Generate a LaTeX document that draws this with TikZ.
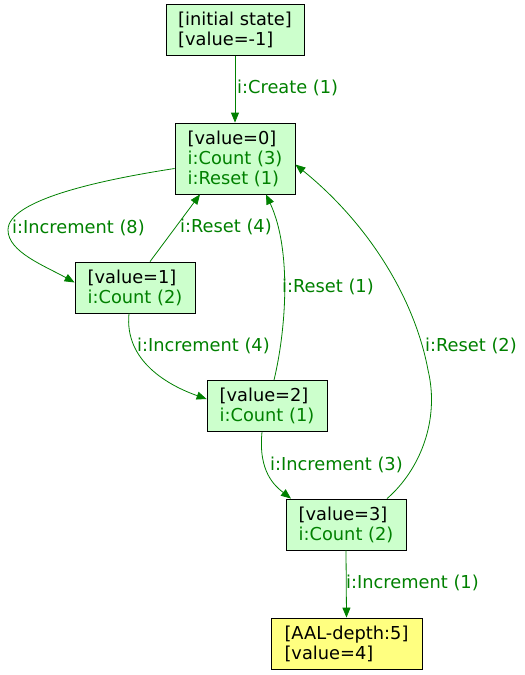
\documentclass[tikz,border=0pt]{standalone}
\usepackage{fontspec}
\setmainfont{DejaVu Sans}
\usetikzlibrary{arrows.meta,positioning}
\definecolor{stfill}{HTML}{CCFFCC}
\definecolor{endfill}{HTML}{FFFF80}
\definecolor{edgegreen}{HTML}{008000}
\begin{document}
\begin{tikzpicture}[x=1pt,y=-1pt,
  every node/.style={font=\fontsize{17.8}{20}\selectfont},
  statebox/.style={draw=black,line width=0.8pt,fill=stfill,align=left,minimum width=120pt,minimum height=51pt,inner sep=0pt},
  endbox/.style={statebox,fill=endfill,minimum width=151pt},
  elabel/.style={text=edgegreen,anchor=west,inner sep=0pt},
  conn/.style={draw=edgegreen,line width=0.8pt,-{Triangle[length=10pt,width=8pt]}}
]
\useasboundingbox (0,0) rectangle (525,675);
\node[statebox,minimum width=138pt] (s0) at (235,30) {{[initial state]}\\{}{[value=-1]}};
\node[statebox,minimum height=71pt] (v0) at (235,158.5) {{[value=0]}\\\textcolor{edgegreen}{i:Count (3)}\\\textcolor{edgegreen}{i:Reset (1)}};
\node[statebox] (v1) at (135,287.5) {{[value=1]}\\\textcolor{edgegreen}{i:Count (2)}};
\node[statebox] (v2) at (267,406) {{[value=2]}\\\textcolor{edgegreen}{i:Count (1)}};
\node[statebox] (v3) at (346,524.5) {{[value=3]}\\\textcolor{edgegreen}{i:Count (2)}};
\node[endbox] (v4) at (346.5,643.5) {{[AAL-depth:5]}\\{}{[value=4]}};

\draw[conn] (s0.south) -- (v0.north);
\draw[conn] ([yshift=-10pt]v0.west) .. controls (100,180) and (8,200) .. (8,230) .. controls (8,252) and (45,266) .. ([yshift=5pt]v1.west);
\draw[conn] ([xshift=15pt]v1.north) -- ([xshift=-35pt]v0.south);
\draw[conn] ([xshift=-6pt]v1.south) .. controls (124,362) and (170,386) .. ([yshift=7pt]v2.west);
\draw[conn] ([xshift=7pt]v2.north) .. controls (286,330) and (292,250) .. ([xshift=31pt]v0.south);
\draw[conn] ([xshift=-5pt]v2.south) .. controls (258,472) and (275,486) .. ([xshift=-55pt]v3.north);
\draw[conn] ([xshift=41pt]v3.north) .. controls (420,470) and (440,420) .. (428,370) .. controls (415,300) and (370,225) .. ([yshift=-6pt]v0.east);
\draw[conn] (v3.south) -- (v4.north);

\node[elabel] (l1) at (237,88) {i:Create (1)};
\node[elabel] (l2) at (12,228) {i:Increment (8)};
\node[elabel] (l3) at (180,227) {i:Reset (4)};
\node[elabel] (l4) at (137,346) {i:Increment (4)};
\node[elabel] (l5) at (282,287) {i:Reset (1)};
\node[elabel] (l6) at (270,465) {i:Increment (3)};
\node[elabel] (l7) at (425,346) {i:Reset (2)};
\node[elabel] (l8) at (346,583) {i:Increment (1)};
\end{tikzpicture}
\end{document}
